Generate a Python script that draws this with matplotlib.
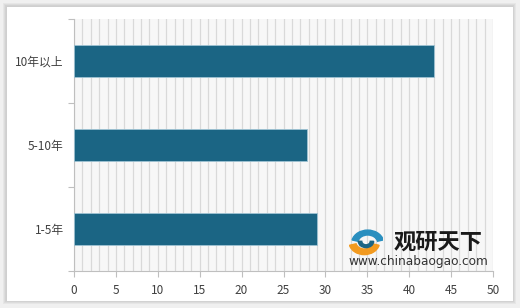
import matplotlib
matplotlib.use("Agg")
import matplotlib.pyplot as plt
from matplotlib.patches import Rectangle, Wedge
import numpy as np

plt.rcParams['font.family'] = ['Noto Sans CJK SC', 'DejaVu Sans']

categories = ['1-5年', '5-10年', '10年以上']
values = [29.0, 27.8, 43.0]
xticks = [0, 5, 10, 15, 20, 25, 30, 35, 40, 45, 50]

W, H = 520, 308
fig = plt.figure(figsize=(W / 100, H / 100), dpi=100)
fig.patch.set_facecolor('#f0f0f0')

def px_rect(x0, y0, x1, y1, **kw):
    r = Rectangle((x0 / W, 1 - y1 / H), (x1 - x0) / W, (y1 - y0) / H,
                  transform=fig.transFigure, **kw)
    fig.add_artist(r)
    return r

# shadowed frame
for i, c in enumerate(['#e6e6e6', '#dcdcdc', '#d2d2d2', '#cfcfcf']):
    px_rect(3 + i, 3 + i, 516 - i, 304 - i, facecolor=c, edgecolor='none', zorder=-3)
px_rect(7, 7, 513, 301, facecolor='white', edgecolor='none', zorder=-2)

ax = fig.add_axes([74 / W, 1 - 271 / H, (493 - 74) / W, (271 - 19) / H])
ax.set_facecolor('#f7f7f7')
y = np.arange(len(categories))
ax.barh(y, values, height=0.38, color='#1b6584', edgecolor='#9fc3d3',
        linewidth=0.6, zorder=3)
ax.set_xlim(0, 50)
ax.set_ylim(-0.5, len(categories) - 0.5)
ax.set_xticks(xticks)
ax.set_xticks(np.arange(0, 51, 1), minor=True)
ax.grid(axis='x', which='both', color='#d9d9d9', linewidth=0.9, zorder=0)
ax.set_yticks(y)
ax.set_yticklabels(categories)
ax.set_yticks(np.arange(-0.5, len(categories), 1), minor=True)
ax.tick_params(axis='y', which='major', length=0, pad=7.5, labelsize=8.5, labelcolor='#404040')
ax.tick_params(axis='y', which='minor', length=4, color='#bfbfbf', width=0.8)
ax.tick_params(axis='x', which='major', length=4, color='#bfbfbf', width=0.8,
               labelsize=8.5, labelcolor='#404040', pad=5)
ax.tick_params(axis='x', which='minor', length=0)
for s in ['top', 'right']:
    ax.spines[s].set_visible(False)
for s in ['left', 'bottom']:
    ax.spines[s].set_color('#bfbfbf')
    ax.spines[s].set_linewidth(0.8)

# watermark logo
lax = fig.add_axes([349 / W, 1 - 256 / H, 34 / W, 28 / H])
lax.set_xlim(-1, 1)
lax.set_ylim(-1, 1)
lax.axis('off')
lax.add_patch(Wedge((0.1, -0.1), 0.95, 15, 165, width=0.35, color='#2a8fbf'))
lax.add_patch(Wedge((-0.1, 0.0), 0.9, 195, 345, width=0.4, color='#f29a1f'))
lax.add_patch(Wedge((0.0, 0.05), 0.45, 180, 360, width=0.2, color='#1b6584'))
fig.text(394 / W, 1 - 242 / H, '观研天下', fontsize=16, fontweight='bold',
         color='#1a1a1a', va='center', ha='left')
fig.text(418 / W, 1 - 262 / H, 'www.chinabaogao.com', fontsize=8.7,
         color='#333333', va='center', ha='center', family=['DejaVu Sans'])

fig.savefig('out.png', dpi=100)
